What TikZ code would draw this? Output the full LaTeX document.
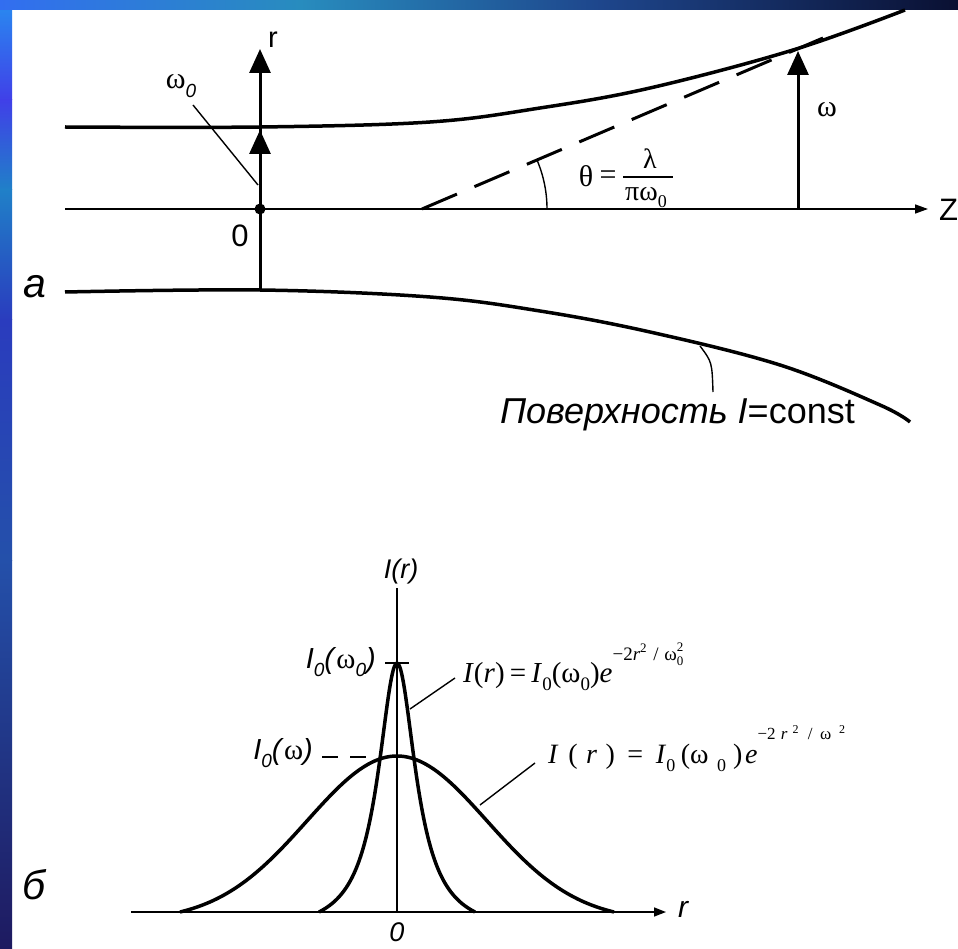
\documentclass[tikz,border=0pt]{standalone}
\usepackage{fontspec}
\setmainfont{Liberation Sans}
\newfontfamily\tms{Liberation Serif}
\usepackage{graphicx}
\usetikzlibrary{arrows.meta}
\definecolor{bA}{RGB}{40,140,240}
\definecolor{bB}{RGB}{64,64,232}
\definecolor{bC}{RGB}{32,128,200}
\definecolor{bD}{RGB}{42,60,190}
\definecolor{bE}{RGB}{36,80,170}
\definecolor{bF}{RGB}{30,26,96}
\definecolor{tA}{RGB}{50,110,240}
\definecolor{tB}{RGB}{40,140,190}
\definecolor{tC}{RGB}{30,70,140}
\definecolor{tD}{RGB}{10,16,50}
\newcommand{\fsz}[1]{\fontsize{#1}{#1}\selectfont}
\newcommand{\lsub}[2][0.3em]{\raisebox{-#1}{#2}}
\begin{document}
\begin{tikzpicture}[x=1pt,y=-1pt,
  beam/.style={line width=3.5pt},
  thinax/.style={line width=1.5pt},
  bigarrow/.style={line width=3pt,-{Triangle[length=24pt,width=21pt]}},
  smallarrow/.style={line width=1.5pt,-{Triangle[length=13pt,width=9pt]}},
  leader/.style={line width=1.4pt},
  lbl/.style={inner sep=0pt},
  curve/.style={line width=3.5pt},
]
\useasboundingbox (0,0) rectangle (958,949);
\fill[white] (0,0) rectangle (958,949);
% frame gradient
\shade[top color=bA,bottom color=bB] (0,0) rectangle (12,100);
\shade[top color=bB,bottom color=bC] (0,100) rectangle (12,190);
\shade[top color=bC,bottom color=bD] (0,190) rectangle (12,320);
\shade[top color=bD,bottom color=bE] (0,320) rectangle (12,560);
\shade[top color=bE,bottom color=bF] (0,560) rectangle (12,949);
\shade[left color=tA,right color=tB] (0,0) rectangle (300,10);
\shade[left color=tB,right color=tC] (300,0) rectangle (600,10);
\shade[left color=tC,right color=tD] (600,0) rectangle (958,10);

% ---------- part a ----------
\coordinate (O) at (260,209);
\coordinate (rtop) at (260,49);
\coordinate (rbot) at (260,290);
\coordinate (w0top) at (260,130);
\coordinate (zs) at (65,209);
\coordinate (ze) at (928,209);
\coordinate (wbase) at (798,209);
\coordinate (wtop) at (798,51);
\coordinate (ds) at (422,209);
\coordinate (de) at (823,38);
\coordinate (arcS) at (547,209);

\draw[beam] plot[smooth,tension=0.6] coordinates {(65,127) (260,127) (430,122) (540,108) (650,88) (793,50) (905,10)};
\draw[beam] plot[smooth,tension=0.6] coordinates {(65,292) (260,290) (430,297) (540,311) (650,332) (780,365) (880,405) (910,422)};

\draw[smallarrow] (zs) -- (ze);
\draw[bigarrow] (rbot) -- (rtop);
\draw[bigarrow] (O) -- (w0top);
\draw[bigarrow] (wbase) -- (wtop);
\fill (O) circle (5.5);
\draw[line width=3pt,dash pattern=on 38pt off 19pt] (ds) -- (de);
\draw[leader] (arcS) arc[start angle=0,end angle=-23,radius=125];

\node[lbl,font=\fsz{29}] (rl) at (273,40) {r};
\node[lbl,font=\fsz{31}] (zero) at (240,236) {0};
\node[lbl,anchor=west,font=\fsz{31}] (zl) at (939,210) {Z};
\node[lbl,font=\fsz{30}\tms] (wl) at (827,110) {ω};
\node[lbl,font=\fsz{30}] (w0l) at (181,86) {{\tms ω}\lsub{\fsz{19}\itshape 0}};
\coordinate (w0a) at (193,105);
\coordinate (w0b) at (258,185);
\draw[leader] (w0a) -- (w0b);

\node[lbl,font=\fsz{30}\tms] (th) at (586,176) {θ};
\node[lbl,font=\fsz{30}\tms] (eq) at (608,178) {=};
\node[lbl,font=\fsz{28}\tms] (lam) at (650,159) {λ};
\node[lbl,font=\fsz{28}\tms] (pw) at (646,198) {πω\lsub[0.25em]{\fsz{18}0}};
\coordinate (barL) at (623,177);
\coordinate (barR) at (673,177);
\draw[line width=1.2pt] (barL) -- (barR);

\node[lbl,font=\fsz{41}\itshape] (la) at (35,287) {а};

% leader to surface label
\coordinate (sl1) at (700,346);
\coordinate (sl2) at (713,392);
\draw[leader] (sl1) .. controls (712,362) .. (sl2);
\node[lbl,anchor=base east,font=\fsz{36}] (surf) at (855,423) {\textit{Поверхность I}=const};

% ---------- part b ----------
\coordinate (c0) at (397,912);
\coordinate (axL) at (131,912);
\coordinate (axR) at (666,912);
\coordinate (vtop) at (397,588);
\draw[line width=1.5pt,-{Triangle[length=12pt,width=9pt]}] (axL) -- (axR);
\draw[thinax] (c0) -- (vtop);

\draw[curve] plot[domain=-78:78,samples=121,smooth] ({397+\x},{912-249*(1/(1+(\x/23)*(\x/23))-0.08)/0.92});
\draw[curve] plot[domain=-217:217,samples=121,smooth] ({397+\x},{912-156*(exp(-2*(\x/180)*(\x/180))-0.0546)/0.9454});

\coordinate (tkL) at (385,663);
\coordinate (tkR) at (409,663);
\draw[line width=2pt] (tkL) -- (tkR);
\coordinate (dL) at (322,757);
\coordinate (dR) at (368,757);
\draw[line width=1.8pt,dash pattern=on 16pt off 12pt] (dL) -- (dR);

\node[lbl,anchor=east,font=\fsz{29}] (i0w0) at (376,662) {\textit{I}\lsub{\fsz{19}\itshape 0}\textit{(}{\tms ω}\lsub{\fsz{19}\itshape 0}\textit{)}};
\node[lbl,anchor=east,font=\fsz{29}] (i0w) at (313,753) {\textit{I}\lsub{\fsz{19}\itshape 0}\textit{(}{\tms ω}\textit{)}};
\node[lbl,font=\fsz{27}\itshape] (ir) at (401,572) {I(r)};
\node[lbl,font=\fsz{27}\itshape] (b0) at (397,932) {0};
\node[lbl,font=\fsz{30}\itshape] (brl) at (683,909) {r};
\node[lbl,font=\fsz{41}\itshape] (lb) at (34,885) {б};

\node[lbl,anchor=base west,font=\fsz{29}\tms] (f1) at (463,682)
 {\textit{I}(\textit{r})\hspace{0.18em}=\hspace{0.18em}\textit{I}\lsub{\fsz{19}0}(ω\lsub{\fsz{19}0})\textit{e}\raisebox{0.75em}{\fsz{19}−2\textit{r}\raisebox{0.4em}{\fsz{13}2}\hspace{0.35em}/\hspace{0.3em}ω\rlap{\raisebox{0.45em}{\fsz{13}2}}\lsub[0.3em]{\fsz{13}0}}};
\coordinate (f1a) at (455,678);
\coordinate (f1b) at (410,709);
\draw[leader] (f1a) -- (f1b);

\node[lbl,anchor=base west,font=\fsz{28}\tms] (f2) at (548,763)
 {\textit{I}\hspace{.35em}(\hspace{.3em}\textit{r}\hspace{.3em})\hspace{.45em}=\hspace{.45em}\textit{I}\lsub{\fsz{18}0}\hspace{.2em}(ω\hspace{.3em}\lsub{\fsz{18}0}\hspace{.25em})\hspace{.1em}\textit{e}\raisebox{0.85em}{\fsz{17}−2\hspace{.3em}\textit{r}\hspace{.3em}\raisebox{.35em}{\fsz{12}2}\hspace{.55em}/\hspace{.45em}ω\hspace{.45em}\raisebox{.35em}{\fsz{12}2}}};
\coordinate (f2a) at (535,763);
\coordinate (f2b) at (480,805);
\draw[leader] (f2a) -- (f2b);
\end{tikzpicture}
\end{document}
